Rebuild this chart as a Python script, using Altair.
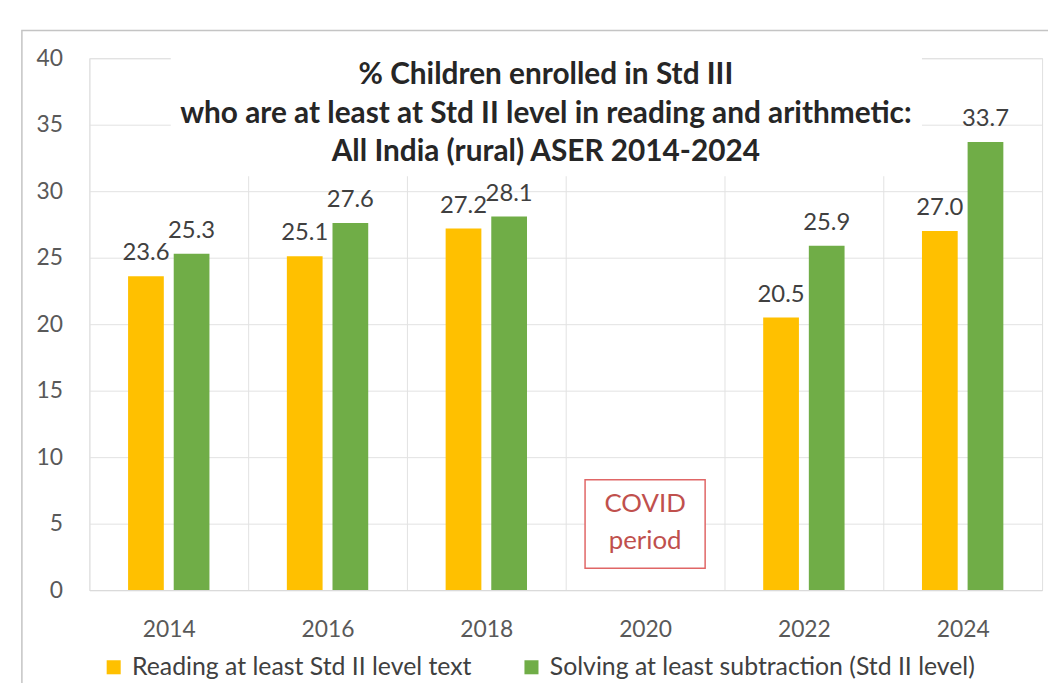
import altair as alt
import pandas as pd

years = ["2014", "2016", "2018", "2020", "2022", "2024"]
series_names = ["Reading at least Std II level text",
                "Solving at least subtraction (Std II level)"]
reading = [23.6, 25.1, 27.2, None, 20.5, 27.0]
solving = [25.3, 27.6, 28.1, None, 25.9, 33.7]
colors = ["#FFC000", "#70AD47"]
title_lines = ["% Children enrolled in Std III",
               "who are at least at Std II level in reading and arithmetic:",
               "All India (rural) ASER 2014-2024"]
y_ticks = [0, 5, 10, 15, 20, 25, 30, 35, 40]
covid_year = "2020"
covid_label = "COVID\nperiod"
covid_lo, covid_hi, covid_mid = 1.65, 8.3, 6.45

rows = []
for yr, r, s in zip(years, reading, solving):
    if r is not None:
        rows.append({"year": yr, "series": series_names[0], "value": r})
    if s is not None:
        rows.append({"year": yr, "series": series_names[1], "value": s})
df = pd.DataFrame(rows)
covid_df = pd.DataFrame([{"year": covid_year, "lo": covid_lo, "hi": covid_hi,
                          "mid": covid_mid, "label": covid_label}])
one = pd.DataFrame({"k": [0]})

FONT = "Lato"
GRID = "#e2e2e2"

x_enc = alt.X("year:N",
              scale=alt.Scale(domain=years, paddingInner=0, paddingOuter=0),
              axis=alt.Axis(title=None, labelAngle=0, grid=True, tickBand="extent",
                            ticks=False, domain=True, domainColor="#d9d9d9",
                            gridColor=GRID, labelFontSize=23, labelColor="#595959",
                            labelPadding=29, labelFont=FONT))
xo_enc = alt.XOffset("series:N",
                     scale=alt.Scale(domain=series_names, paddingInner=0.217,
                                     paddingOuter=0.848))
y_scale = alt.Scale(domain=[0, 40], nice=False)
y_enc = alt.Y("value:Q", scale=y_scale,
              axis=alt.Axis(title=None, values=y_ticks, grid=True, gridColor=GRID,
                            domain=False, ticks=False, labelFontSize=23,
                            labelColor="#595959", labelPadding=27, labelFont=FONT))

frame = alt.Chart(one).mark_rect(fillOpacity=0, stroke="#c4c4c4", strokeWidth=1.5).encode(
    x=alt.value(-68), x2=alt.value(1100), y=alt.value(-28), y2=alt.value(700))

title_box = alt.Chart(one).mark_rect(fill="white").encode(
    x=alt.value(82), x2=alt.value(839), y=alt.value(-4), y2=alt.value(119))

bars = alt.Chart(df).mark_bar().encode(
    x=x_enc, xOffset=xo_enc, y=y_enc,
    color=alt.Color("series:N",
                    scale=alt.Scale(domain=series_names, range=colors),
                    legend=alt.Legend(title=None, orient="none", legendX=12, legendY=601,
                                      direction="horizontal", symbolType="square",
                                      symbolSize=200, symbolStrokeWidth=0,
                                      labelFontSize=25, labelColor="#404040",
                                      labelFont=FONT, labelLimit=700,
                                      columnPadding=47, padding=0, symbolOffset=0,
                                      labelOffset=6)))

labels = alt.Chart(df).mark_text(fontSize=24, color="#404040", baseline="alphabetic",
                                 dy=-16, font=FONT).encode(
    x=x_enc, xOffset=xo_enc, y=y_enc,
    text=alt.Text("value:Q", format=".1f"))

covid_box = alt.Chart(covid_df).mark_bar(width=121, fill="white", stroke="#e06666",
                                         strokeWidth=1.5).encode(
    x=x_enc, y=alt.Y("lo:Q", scale=y_scale), y2="hi:Q")

covid_text = alt.Chart(covid_df).mark_text(lineBreak="\n", lineHeight=37, fontSize=26,
                                           color="#c0504d", font=FONT,
                                           baseline="middle").encode(
    x=x_enc, y=alt.Y("mid:Q", scale=y_scale), text="label:N")

title = alt.Chart(one).mark_text(text=title_lines, fontSize=30, fontWeight="bold",
                                 lineHeight=39, baseline="middle", align="center",
                                 color="#262626", font=FONT).encode(
    x=alt.value(460), y=alt.value(17))

chart = alt.layer(frame, title_box, bars, labels, covid_box, covid_text, title).properties(
    width=960, height=536,
    autosize=alt.AutoSizeParams(type="none"),
    padding={"left": 82, "top": 48, "right": 6, "bottom": 91},
).configure_view(stroke=None).configure(font=FONT)

chart.save("out.html", embed_options={"renderer": "svg", "actions": False})
